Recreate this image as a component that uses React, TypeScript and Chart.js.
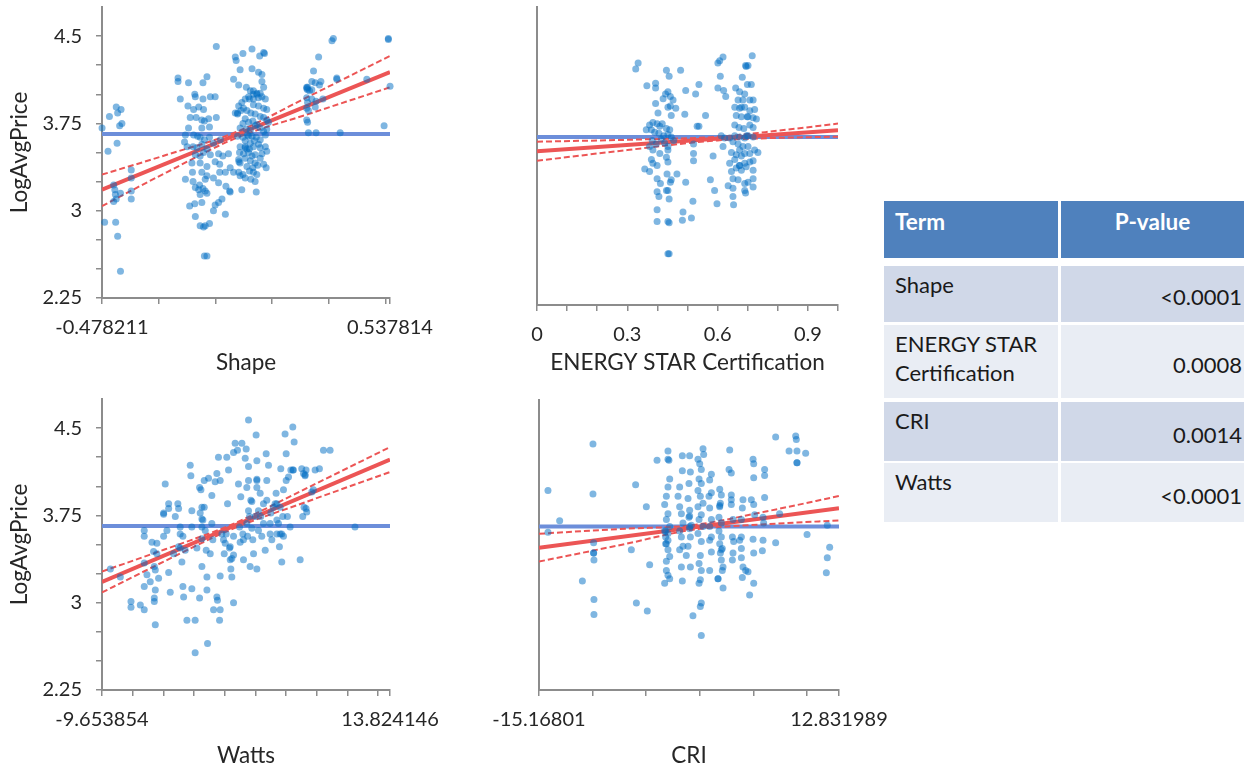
import React, { useEffect, useRef } from "react";
import { Chart, registerables } from "chart.js";

Chart.register(...registerables);

// ---------------- shared axis data ----------------
const Y_MIN = 2.25;
const Y_MAX = 4.75;
const Y_TICKS = [2.25, 2.5, 2.75, 3, 3.25, 3.5, 3.75, 4, 4.25, 4.5];
const Y_TICK_LABELS = ["2.25", "", "", "3", "", "", "3.75", "", "", "4.5"];
const Y_TITLE = "LogAvgPrice";
const MEAN_PRICE = 3.66;

// ---------------- Shape ----------------
const SHAPE_RANGE = [-0.478211, 0.537814];
const SHAPE_TICKS = [-0.478211, -0.278211, -0.078211, 0.121789, 0.321789, 0.521789, 0.537814];
const SHAPE_TICK_LABELS = ["-0.478211", "", "", "", "", "", "0.537814"];
const SHAPE_FIT = [3.18, 4.19];
const SHAPE_CI_X = [-0.478211, -0.25, 0, 0.25, 0.537814];
const SHAPE_CI_UPPER = [3.31, 3.48, 3.68, 3.98, 4.33];
const SHAPE_CI_LOWER = [3.04, 3.33, 3.63, 3.83, 4.06];
const SHAPE_POINTS: [number, number][] = [
  [-0.478, 3.71], [-0.452, 3.81], [-0.428, 3.89], [-0.423, 3.84], [-0.411, 3.87], [-0.408, 3.75], [-0.416, 3.73],
  [-0.457, 3.51], [-0.425, 3.58], [-0.375, 3.35], [-0.375, 3.28], [-0.375, 3.17], [-0.375, 3.1], [-0.437, 3.22],
  [-0.433, 3.18], [-0.431, 3.14], [-0.428, 3.1], [-0.437, 3.08], [-0.413, 3.15], [-0.469, 2.9], [-0.43, 2.9],
  [-0.423, 2.78], [-0.413, 2.48],
  [-0.21, 4.14], [-0.21, 4.11], [-0.173, 4.1], [-0.122, 4.1], [-0.108, 4.15], [-0.202, 3.96], [-0.151, 4.0],
  [-0.149, 3.98], [-0.122, 3.96], [-0.096, 3.98], [-0.079, 3.98], [-0.175, 3.9], [-0.137, 3.89], [-0.155, 3.87],
  [-0.12, 3.87], [-0.167, 3.8], [-0.146, 3.8], [-0.126, 3.78], [-0.117, 3.77], [-0.102, 3.79], [-0.075, 3.8],
  [-0.173, 3.71], [-0.126, 3.71], [-0.099, 3.72], [-0.184, 3.65], [-0.155, 3.65], [-0.141, 3.64], [-0.132, 3.63],
  [-0.117, 3.61], [-0.099, 3.63], [-0.187, 3.59], [-0.178, 3.55], [-0.157, 3.55], [-0.143, 3.54], [-0.126, 3.57],
  [-0.108, 3.53], [-0.085, 3.58], [-0.061, 3.61], [-0.149, 3.48], [-0.132, 3.47], [-0.12, 3.5], [-0.096, 3.48],
  [-0.067, 3.49], [-0.052, 3.47], [-0.032, 3.49], [-0.161, 3.41], [-0.132, 3.41], [-0.108, 3.38], [-0.079, 3.42],
  [-0.063, 3.4], [-0.159, 3.33], [-0.126, 3.33], [-0.108, 3.3], [-0.063, 3.33], [-0.043, 3.33], [-0.184, 3.27],
  [-0.157, 3.25], [-0.134, 3.22], [-0.114, 3.27], [-0.085, 3.28], [-0.067, 3.24], [-0.149, 3.2], [-0.137, 3.18],
  [-0.122, 3.19], [-0.114, 3.17], [-0.132, 3.14], [-0.108, 3.15], [-0.041, 3.21], [-0.028, 3.17], [-0.026, 3.16],
  [-0.169, 3.04], [-0.151, 3.06], [-0.126, 3.07], [-0.079, 3.05], [-0.055, 3.1], [-0.067, 3.07], [-0.085, 3.0],
  [-0.043, 2.97], [-0.149, 2.95], [-0.132, 2.87], [-0.12, 2.86], [-0.114, 2.87], [-0.099, 2.89], [-0.117, 2.61],
  [-0.108, 2.61], [-0.075, 4.41],
  [-0.008, 4.32], [-0.005, 4.29], [0.019, 4.35], [0.051, 4.39], [0.078, 4.33], [0.092, 4.36], [0.095, 4.35],
  [-0.014, 4.13], [0.004, 4.08], [0.009, 4.21], [0.051, 4.22], [0.074, 4.19], [0.086, 4.17], [0.086, 4.11],
  [0.092, 4.06], [0.031, 4.06], [0.045, 4.03], [0.068, 4.01], [0.08, 4.01], [0.056, 4.0], [0.039, 3.98],
  [0.027, 3.96], [0.015, 3.93], [0.004, 3.9], [0.021, 3.88], [0.042, 3.96], [0.056, 3.96], [0.074, 3.97],
  [0.086, 3.98], [0.098, 3.96], [0.056, 3.91], [0.074, 3.9], [0.092, 3.88], [0.103, 3.87], [-0.008, 3.84],
  [0.0, 3.83], [0.012, 3.86], [0.033, 3.86], [0.047, 3.84], [0.062, 3.83], [0.08, 3.81], [0.092, 3.8],
  [0.103, 3.78], [0.109, 3.76], [0.027, 3.79], [0.019, 3.75], [0.039, 3.76], [0.054, 3.77], [0.068, 3.74],
  [0.009, 3.71], [0.031, 3.7], [0.045, 3.69], [0.062, 3.73], [0.08, 3.71], [0.092, 3.68], [0.103, 3.7],
  [0.0, 3.64], [0.019, 3.63], [0.035, 3.65], [0.051, 3.64], [0.066, 3.63], [0.08, 3.61], [0.098, 3.65],
  [0.027, 3.6], [0.045, 3.58], [0.059, 3.6], [0.074, 3.57], [0.098, 3.55], [0.009, 3.55], [0.027, 3.54],
  [0.042, 3.53], [0.056, 3.55], [0.08, 3.54], [0.007, 3.5], [0.021, 3.49], [0.039, 3.5], [0.051, 3.47],
  [0.062, 3.48], [0.086, 3.49], [0.103, 3.51], [0.004, 3.44], [0.027, 3.45], [0.045, 3.43], [0.062, 3.41],
  [0.08, 3.45], [0.009, 3.41], [0.033, 3.38], [0.054, 3.37], [0.071, 3.39], [0.092, 3.4], [0.101, 3.37],
  [0.004, 3.33], [0.019, 3.31], [0.042, 3.34], [0.056, 3.33], [0.068, 3.31], [0.009, 3.3], [0.027, 3.28],
  [0.047, 3.27], [0.062, 3.25], [0.015, 3.18], [0.066, 3.16], [-0.014, 3.33], [-0.026, 3.37],
  [0.0, 3.84], [0.005, 3.42], [0.039, 3.64], [0.056, 4.03], [0.068, 4.0], [0.027, 3.55], [0.033, 3.53],
  [0.244, 4.06], [0.247, 4.04], [0.254, 4.03], [0.262, 4.04], [0.274, 4.1], [0.289, 4.08], [0.294, 4.11],
  [0.268, 4.2], [0.286, 4.32], [0.333, 4.46], [0.338, 4.48], [0.35, 4.14], [0.35, 4.13], [0.456, 4.13],
  [0.532, 4.48], [0.532, 4.47], [0.538, 4.07], [0.244, 3.97], [0.247, 3.93], [0.262, 3.96], [0.277, 3.94],
  [0.301, 3.96], [0.244, 3.88], [0.25, 3.86], [0.274, 3.89], [0.244, 3.78], [0.247, 3.76], [0.25, 3.67],
  [0.277, 3.67], [0.362, 3.67], [0.517, 3.73], [0.244, 4.05], [0.247, 4.06], [0.262, 4.11],
];

// ---------------- ENERGY STAR Certification ----------------
const ENERGY_RANGE = [0, 1];
const ENERGY_TICKS = [0, 0.1, 0.2, 0.3, 0.4, 0.5, 0.6, 0.7, 0.8, 0.9, 1];
const ENERGY_TICK_LABELS = ["0", "", "", "0.3", "", "", "0.6", "", "", "0.9", ""];
const ENERGY_FIT = [3.54, 3.717];
const ENERGY_CI_X = [0, 0.3, 0.6, 0.8, 1];
const ENERGY_CI_UPPER = [3.62, 3.636, 3.661, 3.712, 3.772];
const ENERGY_CI_LOWER = [3.46, 3.55, 3.631, 3.652, 3.662];
const ENERGY_POINTS: [number, number][] = [
  [0.328, 4.23], [0.336, 4.28], [0.365, 4.09], [0.394, 4.11], [0.394, 4.07], [0.43, 4.22], [0.439, 4.17],
  [0.477, 4.22], [0.427, 4.02], [0.435, 4.04], [0.443, 4.0], [0.419, 3.98], [0.394, 3.94], [0.452, 3.97],
  [0.435, 3.91], [0.443, 3.92], [0.461, 3.9], [0.402, 3.86], [0.446, 3.84], [0.491, 3.85], [0.494, 4.05],
  [0.527, 4.02], [0.538, 4.1], [0.56, 3.84], [0.532, 3.75], [0.385, 3.78], [0.374, 3.76], [0.399, 3.77],
  [0.408, 3.75], [0.416, 3.77], [0.43, 3.73], [0.441, 3.72], [0.363, 3.72], [0.38, 3.72], [0.391, 3.7],
  [0.405, 3.69], [0.421, 3.67], [0.435, 3.68], [0.446, 3.66], [0.454, 3.63], [0.383, 3.63], [0.396, 3.6],
  [0.413, 3.64], [0.424, 3.61], [0.435, 3.58], [0.374, 3.58], [0.385, 3.55], [0.408, 3.52], [0.43, 3.49],
  [0.435, 3.55], [0.38, 3.47], [0.385, 3.44], [0.399, 3.42], [0.435, 3.45], [0.358, 3.39], [0.374, 3.37],
  [0.399, 3.31], [0.41, 3.27], [0.432, 3.35], [0.443, 3.28], [0.446, 3.3], [0.465, 3.35], [0.494, 3.28],
  [0.399, 3.2], [0.405, 3.16], [0.439, 3.14], [0.435, 3.21], [0.43, 3.21], [0.399, 3.05], [0.399, 2.95],
  [0.435, 2.95], [0.439, 2.94], [0.485, 3.03], [0.483, 2.96], [0.513, 2.98], [0.518, 3.12], [0.52, 3.6],
  [0.52, 3.52], [0.52, 3.46], [0.435, 2.68], [0.439, 2.68], [0.538, 3.75],
  [0.601, 4.28], [0.607, 4.3], [0.618, 4.33], [0.609, 4.17], [0.715, 4.34], [0.701, 4.26], [0.695, 4.25],
  [0.682, 4.16], [0.699, 4.1], [0.712, 4.1], [0.601, 4.07], [0.62, 4.05], [0.627, 4.0], [0.66, 4.07],
  [0.673, 4.04], [0.69, 4.02], [0.707, 3.97], [0.718, 3.97], [0.668, 3.97], [0.684, 3.97], [0.657, 3.91],
  [0.673, 3.9], [0.69, 3.91], [0.707, 3.88], [0.723, 3.89], [0.662, 3.84], [0.679, 3.83], [0.698, 3.83],
  [0.718, 3.82], [0.729, 3.81], [0.657, 3.76], [0.671, 3.74], [0.687, 3.73], [0.707, 3.76], [0.718, 3.74],
  [0.612, 3.67], [0.623, 3.65], [0.64, 3.65], [0.657, 3.67], [0.673, 3.66], [0.69, 3.65], [0.701, 3.67],
  [0.718, 3.66], [0.651, 3.62], [0.668, 3.6], [0.684, 3.58], [0.701, 3.58], [0.723, 3.55], [0.734, 3.53],
  [0.646, 3.53], [0.662, 3.51], [0.679, 3.5], [0.69, 3.52], [0.707, 3.52], [0.64, 3.44], [0.657, 3.47],
  [0.673, 3.42], [0.69, 3.44], [0.707, 3.45], [0.718, 3.46], [0.646, 3.37], [0.662, 3.4], [0.679, 3.38],
  [0.695, 3.41], [0.718, 3.38], [0.651, 3.31], [0.668, 3.3], [0.69, 3.27], [0.701, 3.28], [0.718, 3.31],
  [0.635, 3.25], [0.651, 3.23], [0.69, 3.21], [0.693, 3.19], [0.718, 3.24], [0.651, 3.16], [0.653, 3.09],
  [0.598, 3.1], [0.59, 3.21], [0.576, 3.3], [0.585, 3.5], [0.618, 3.58],
  [0.693, 4.26], [0.679, 3.91], [0.701, 3.83], [0.696, 3.67], [0.673, 3.55], [0.673, 3.42],
];

// ---------------- Watts ----------------
const WATTS_RANGE = [-9.653854, 13.824146];
const WATTS_TICKS = [-9.653854, -7.153854, -4.653854, -2.153854, 0.346146, 2.846146, 5.346146, 7.846146, 10.346146, 12.846146, 13.824146];
const WATTS_TICK_LABELS = ["-9.653854", "", "", "", "", "", "", "", "", "", "13.824146"];
const WATTS_FIT = [3.178, 4.23];
const WATTS_CI_X = [-9.653854, -4.5, 1.0, 7, 13.824146];
const WATTS_CI_UPPER = [3.268, 3.459, 3.675, 3.982, 4.337];
const WATTS_CI_LOWER = [3.088, 3.359, 3.635, 3.866, 4.123];
const WATTS_POINTS: [number, number][] = [
  [-8.97, 3.29], [-8.16, 3.22], [-7.29, 3.01], [-7.29, 2.96], [-6.53, 2.98], [-6.21, 2.94], [-6.21, 3.14],
  [-6.21, 3.34], [-6.21, 3.57], [-6.21, 3.62], [-5.99, 3.24], [-5.72, 3.18], [-5.58, 3.52], [-5.45, 3.44],
  [-5.39, 3.31], [-5.31, 3.28], [-5.31, 3.11], [-5.39, 3.04], [-5.39, 3.01], [-5.31, 2.81], [-5.18, 3.42],
  [-5.04, 3.21], [-5.18, 3.51], [-4.63, 3.77], [-4.63, 3.57], [-4.5, 4.02], [-4.36, 3.62], [-4.22, 3.85],
  [-4.22, 3.81], [-4.22, 3.26], [-4.09, 3.09], [-3.82, 3.42], [-3.68, 3.74], [-3.47, 3.85], [-3.41, 3.81],
  [-3.41, 3.48], [-3.28, 3.65], [-3.28, 3.59], [-3.14, 3.35], [-3.06, 3.14], [-3.0, 3.05], [-3.06, 3.57],
  [-2.87, 3.45], [-2.73, 2.85], [-2.46, 4.18], [-2.41, 4.09], [-2.33, 3.79], [-2.33, 3.65], [-2.33, 3.12],
  [-2.06, 2.85], [-2.06, 2.57], [-1.92, 3.47], [-1.7, 3.04], [-1.7, 3.99], [-1.65, 3.77], [-1.59, 3.97],
  [-1.51, 3.65], [-1.51, 3.55], [-1.51, 3.31], [-1.43, 3.71], [-1.32, 4.05], [-1.32, 3.82], [-1.24, 3.62],
  [-1.16, 3.45], [-1.1, 3.22], [-1.1, 3.11], [-1.05, 2.65], [-0.97, 4.07], [-0.83, 3.42], [-0.7, 3.92],
  [-0.7, 3.68], [-0.62, 3.54], [-0.56, 2.94], [-0.43, 4.04], [-0.29, 4.11], [-0.29, 3.05], [-0.24, 3.02],
  [-0.16, 4.25], [-0.02, 4.05], [-0.02, 2.94], [-0.02, 3.23], [-0.07, 2.85], [0.12, 3.59], [0.25, 3.54],
  [0.39, 3.51], [0.31, 3.42], [0.47, 3.59], [0.52, 4.25], [0.58, 3.85], [0.66, 4.14], [0.74, 3.47],
  [0.8, 3.37], [0.85, 3.29], [0.93, 3.22], [1.07, 3.41], [1.07, 3.57], [1.07, 3.0], [1.07, 4.29],
  [1.2, 4.37], [1.39, 4.31], [1.47, 4.02], [1.56, 3.65], [1.61, 3.52], [1.66, 3.91], [1.75, 4.37],
  [1.83, 3.59], [1.88, 3.54], [1.88, 3.37], [2.02, 4.24], [2.1, 4.32], [2.15, 3.99], [2.15, 3.68],
  [2.21, 3.57], [2.29, 4.57], [2.29, 4.17], [2.29, 4.05], [2.29, 3.79], [2.37, 3.74], [2.42, 3.31],
  [2.48, 3.88], [2.56, 3.64], [2.64, 3.54], [2.7, 3.42], [2.83, 3.74], [2.91, 4.44], [2.97, 4.22],
  [2.97, 4.05], [2.97, 3.99], [2.97, 3.29], [3.1, 3.79], [3.1, 3.62], [3.24, 3.94], [3.29, 3.74],
  [3.37, 3.57], [3.51, 3.85], [3.51, 3.68], [3.65, 3.45], [3.73, 4.28], [3.78, 4.05], [3.78, 3.88],
  [3.92, 4.18], [4.05, 3.68], [4.05, 3.59], [4.11, 3.77], [4.19, 3.54], [4.32, 3.82], [4.46, 3.85],
  [4.54, 3.94], [4.6, 3.71], [4.6, 3.59], [4.73, 3.68], [4.81, 3.48], [4.87, 3.82], [4.87, 3.59],
  [4.92, 4.15], [5.0, 3.35], [5.08, 3.74], [5.14, 3.57], [5.14, 3.97], [5.27, 4.45], [5.36, 4.28],
  [5.36, 4.05], [5.46, 3.74], [5.55, 4.08], [5.68, 3.65], [5.74, 4.14], [5.9, 4.51], [5.95, 4.14],
  [6.01, 4.38], [6.5, 3.37], [6.63, 4.15], [6.71, 3.74], [6.77, 4.11], [6.82, 3.82], [6.9, 4.09],
  [6.98, 4.14], [7.04, 3.78], [7.45, 3.95], [7.58, 3.97], [7.72, 4.14], [8.07, 4.15], [8.4, 4.31],
  [8.94, 4.31], [10.97, 3.65],
  [-4.63, 3.76], [-3.28, 3.47], [-1.51, 3.72], [-1.51, 3.82], [0.8, 3.48], [0.93, 3.38], [2.56, 3.87],
  [2.97, 4.06], [4.6, 3.85], [5.0, 3.59], [5.9, 4.14], [6.9, 4.1], [6.98, 3.81],
];

// ---------------- CRI ----------------
const CRI_RANGE = [-15.16801, 12.831989];
const CRI_TICKS = [-15.16801, -10.16801, -5.16801, -0.16801, 4.83199, 9.83199, 12.831989];
const CRI_TICK_LABELS = ["-15.16801", "", "", "", "", "", "12.831989"];
const CRI_FIT = [3.477, 3.817];
const CRI_CI_X = [-15.16801, -7, -1, 6, 12.831989];
const CRI_CI_UPPER = [3.597, 3.641, 3.669, 3.789, 3.922];
const CRI_CI_LOWER = [3.357, 3.511, 3.629, 3.679, 3.712];
const CRI_POINTS: [number, number][] = [
  [-14.33, 3.97], [-14.33, 3.61], [-13.24, 3.71], [-10.13, 4.37], [-10.13, 3.94], [-10.07, 3.52],
  [-10.07, 3.43], [-10.04, 3.37], [-10.04, 3.03], [-10.04, 2.9], [-11.12, 3.19], [-6.55, 3.46],
  [-6.15, 4.02], [-6.08, 3.0], [-5.15, 3.83], [-5.06, 2.93], [-4.84, 3.33], [-4.15, 4.23], [-3.44, 3.17],
  [-3.28, 3.28], [-3.13, 4.31], [-3.04, 4.23], [-2.97, 4.07], [-3.13, 4.0], [-3.28, 3.92], [-3.44, 3.85],
  [-3.13, 3.77], [-3.28, 3.72], [-2.97, 3.66], [-3.13, 3.6], [-3.35, 3.51], [-3.13, 3.46], [-2.97, 3.4],
  [-3.28, 3.36], [-3.13, 3.24], [-2.97, 3.21], [-3.44, 3.62], [-3.35, 3.57], [-3.13, 3.54], [-1.79, 4.27],
  [-1.79, 4.14], [-2.04, 4.0], [-2.19, 3.92], [-2.04, 3.83], [-1.88, 3.77], [-1.73, 3.69], [-2.04, 3.62],
  [-1.88, 3.57], [-1.73, 3.49], [-2.04, 3.46], [-1.42, 3.41], [-1.88, 3.31], [-1.79, 3.19], [-1.11, 4.27],
  [-1.04, 4.13], [-1.17, 4.03], [-1.26, 3.9], [-1.11, 3.8], [-1.17, 3.74], [-0.95, 3.67], [-1.11, 3.64],
  [-1.04, 3.57], [-1.26, 3.49], [-1.04, 3.31], [-0.8, 2.89], [-0.33, 4.24], [-0.17, 4.2], [-0.02, 4.15],
  [0.14, 4.33], [0.2, 4.28], [-0.23, 4.07], [-0.02, 4.03], [-0.33, 3.97], [-0.11, 3.92], [0.14, 3.86],
  [-0.33, 3.83], [-0.02, 3.76], [-0.23, 3.72], [0.14, 3.66], [-0.33, 3.6], [-0.02, 3.53], [-0.11, 3.41],
  [-0.23, 3.34], [-0.02, 3.28], [-0.11, 3.2], [-0.23, 3.17], [-0.02, 3.0], [-0.11, 2.97], [-0.02, 2.72],
  [0.92, 4.11], [0.76, 4.06], [0.92, 3.95], [0.7, 3.92], [0.76, 3.82], [0.92, 3.72], [0.76, 3.66],
  [0.92, 3.57], [0.76, 3.54], [0.92, 3.44], [0.76, 3.28], [1.7, 3.98], [1.85, 3.93], [1.76, 3.86],
  [1.7, 3.83], [1.63, 3.74], [1.85, 3.69], [1.63, 3.62], [1.85, 3.57], [1.7, 3.51], [1.94, 3.47],
  [1.76, 3.43], [1.85, 3.37], [2.01, 3.31], [1.94, 3.28], [1.54, 3.21], [2.01, 3.13], [2.63, 4.32],
  [2.57, 4.15], [2.78, 4.12], [2.78, 3.93], [2.78, 3.89], [2.78, 3.85], [2.94, 3.72], [2.88, 3.57],
  [3.0, 3.53], [2.94, 3.43], [2.88, 3.37], [3.81, 3.82], [3.87, 3.89], [3.72, 3.72], [3.72, 3.57],
  [3.56, 3.54], [3.72, 3.47], [3.72, 3.39], [3.87, 3.31], [4.12, 3.28], [4.34, 3.27], [3.81, 3.22],
  [4.49, 3.07], [4.81, 4.24], [4.87, 4.2], [4.87, 4.08], [4.65, 3.89], [4.87, 3.85], [4.96, 3.76],
  [4.81, 3.55], [4.87, 3.43], [4.87, 3.17], [5.74, 3.74], [5.89, 4.15], [5.89, 4.1], [5.89, 3.91],
  [5.8, 3.69], [5.74, 3.54], [5.68, 3.45], [6.92, 4.43], [6.92, 3.52], [7.29, 3.77], [8.17, 4.31],
  [8.79, 4.44], [8.85, 4.41], [8.91, 4.31], [8.91, 4.21], [9.72, 4.29], [9.85, 3.59], [11.74, 3.67],
  [11.96, 3.48], [11.74, 3.39], [11.65, 3.26],
  [-3.35, 3.62], [-3.28, 3.51], [-1.11, 3.66], [1.7, 3.84], [1.85, 3.46], [8.91, 4.21], [-1.11, 3.75],
  [1.54, 3.21], [-3.13, 4.24], [-10.07, 3.43],
];

// ---------------- P-value table ----------------
const TABLE_HEADERS = ["Term", "P-value"];
const TERMS = ["Shape", "ENERGY STAR Certification", "CRI", "Watts"];
const P_VALUES = ["<0.0001", "0.0008", "0.0014", "<0.0001"];

// ---------------- styles ----------------
const FONT = "Lato, 'Noto Sans', sans-serif";
const TICK_SIZE = 20;
const TITLE_SIZE = 22.5;
const TEXT_COLOR = "#262626";
const AXIS_COLOR = "#8c8c8c";
const DOT_COLOR = "rgba(0,110,195,0.5)";
const MEAN_COLOR = "rgb(108,142,218)";
const FIT_COLOR = "rgb(236,85,85)";

type PanelProps = {
  box: { left: number; top: number; width: number; height: number };
  padTop: number;
  padRight: number;
  yWidth: number;
  xHeight: number;
  titlePadBottom: number;
  showYAxisLabels: boolean;
  xTitle: string;
  xRange: number[];
  xTicks: number[];
  xTickLabels: string[];
  points: [number, number][];
  fit: number[];
  ciX: number[];
  ciUpper: number[];
  ciLower: number[];
};

function Panel(p: PanelProps) {
  const ref = useRef<HTMLCanvasElement | null>(null);
  useEffect(() => {
    if (!ref.current) return;
    const tickFont = { family: FONT, size: TICK_SIZE };
    const titleFont = { family: FONT, size: TITLE_SIZE };
    const chart = new Chart(ref.current, {
      type: "scatter",
      data: {
        datasets: [
          {
            data: p.points.map(([x, y]) => ({ x, y })),
            backgroundColor: DOT_COLOR,
            borderWidth: 0,
            pointRadius: 3.5,
            pointHoverRadius: 3.5,
            clip: false,
            order: 0,
          },
          {
            data: [
              { x: p.xRange[0], y: p.fit[0] },
              { x: p.xRange[1], y: p.fit[1] },
            ],
            showLine: true,
            borderColor: FIT_COLOR,
            borderWidth: 4,
            pointRadius: 0,
            order: 1,
          },
          {
            data: p.ciX.map((x, i) => ({ x, y: p.ciUpper[i] })),
            showLine: true,
            borderColor: FIT_COLOR,
            borderWidth: 2,
            borderDash: [6, 3],
            pointRadius: 0,
            cubicInterpolationMode: "monotone",
            order: 2,
          },
          {
            data: p.ciX.map((x, i) => ({ x, y: p.ciLower[i] })),
            showLine: true,
            borderColor: FIT_COLOR,
            borderWidth: 2,
            borderDash: [6, 3],
            pointRadius: 0,
            cubicInterpolationMode: "monotone",
            order: 2,
          },
          {
            data: [
              { x: p.xRange[0], y: MEAN_PRICE },
              { x: p.xRange[1], y: MEAN_PRICE },
            ],
            showLine: true,
            borderColor: MEAN_COLOR,
            borderWidth: 4,
            pointRadius: 0,
            order: 3,
          },
        ],
      } as any,
      options: {
        responsive: false,
        animation: false,
        devicePixelRatio: 1,
        events: [],
        layout: { padding: { left: 0, top: p.padTop, right: p.padRight, bottom: 0 } },
        plugins: { legend: { display: false }, tooltip: { enabled: false } },
        scales: {
          x: {
            type: "linear",
            min: p.xRange[0],
            max: p.xRange[1],
            afterFit: (s: any) => {
              s.height = p.xHeight;
              s.paddingLeft = 0;
              s.paddingRight = 0;
            },
            afterBuildTicks: (s: any) => {
              s.ticks = p.xTicks.map((v) => ({ value: v }));
            },
            ticks: {
              autoSkip: false,
              maxRotation: 0,
              minRotation: 0,
              padding: 12,
              color: TEXT_COLOR,
              font: tickFont,
              callback: (_v: any, i: number) => p.xTickLabels[i] ?? "",
            },
            grid: {
              display: true,
              drawOnChartArea: false,
              drawTicks: true,
              tickLength: 6,
              color: AXIS_COLOR,
              lineWidth: 1.5,
            },
            border: { display: true, color: AXIS_COLOR, width: 2 },
            title: {
              display: true,
              text: p.xTitle,
              color: TEXT_COLOR,
              font: titleFont,
              padding: { top: 0, bottom: p.titlePadBottom },
            },
          },
          y: {
            type: "linear",
            min: Y_MIN,
            max: Y_MAX,
            afterFit: (s: any) => {
              s.width = p.yWidth;
              s.paddingTop = 0;
              s.paddingBottom = 0;
            },
            afterBuildTicks: (s: any) => {
              s.ticks = Y_TICKS.map((v) => ({ value: v }));
            },
            ticks: {
              display: p.showYAxisLabels,
              autoSkip: false,
              padding: 14,
              color: TEXT_COLOR,
              font: tickFont,
              callback: (_v: any, i: number) => Y_TICK_LABELS[i] ?? "",
            },
            grid: {
              display: true,
              drawOnChartArea: false,
              drawTicks: p.showYAxisLabels,
              tickLength: 6,
              color: AXIS_COLOR,
              lineWidth: 1.5,
            },
            border: { display: true, color: AXIS_COLOR, width: 2 },
            title: {
              display: p.showYAxisLabels,
              text: Y_TITLE,
              color: TEXT_COLOR,
              font: titleFont,
              padding: { top: 6, bottom: 0 },
            },
          },
        },
      } as any,
    });
    return () => chart.destroy();
  }, []);
  return (
    <canvas
      ref={ref}
      width={p.box.width}
      height={p.box.height}
      style={{
        position: "absolute",
        left: p.box.left,
        top: p.box.top,
        width: p.box.width,
        height: p.box.height,
      }}
    />
  );
}

const HEADER_BOX = { top: 201, height: 57 };
const ROW_BOXES = [
  { top: 266, height: 56 },
  { top: 325, height: 73 },
  { top: 402, height: 59 },
  { top: 463, height: 59 },
];
const COL_BOXES = [
  { left: 884, width: 174 },
  { left: 1061, width: 183 },
];
const ROW_COLORS = ["#d0d8e8", "#e9edf4"];

function PTable() {
  const cellBase: React.CSSProperties = {
    position: "absolute",
    boxSizing: "border-box",
    fontFamily: FONT,
    fontSize: 22,
    lineHeight: "29px",
    color: "#1a1a1a",
  };
  const headBase: React.CSSProperties = {
    ...cellBase,
    top: HEADER_BOX.top,
    height: HEADER_BOX.height,
    background: "#4f81bd",
    color: "#fff",
    fontWeight: 700,
    fontSize: 22.5,
  };
  return (
    <>
      <div style={{ ...headBase, left: COL_BOXES[0].left, width: COL_BOXES[0].width, padding: "6px 0 0 11px" }}>
        {TABLE_HEADERS[0]}
      </div>
      <div
        style={{
          ...headBase,
          left: COL_BOXES[1].left,
          width: COL_BOXES[1].width,
          textAlign: "center",
          padding: "6px 0 0 0",
        }}
      >
        {TABLE_HEADERS[1]}
      </div>
      {TERMS.map((t, i) => (
        <React.Fragment key={t}>
          <div
            style={{
              ...cellBase,
              left: COL_BOXES[0].left,
              width: COL_BOXES[0].width,
              top: ROW_BOXES[i].top,
              height: ROW_BOXES[i].height,
              background: ROW_COLORS[i % 2],
              padding: "4px 4px 0 11px",
            }}
          >
            {t}
          </div>
          <div
            style={{
              ...cellBase,
              left: COL_BOXES[1].left,
              width: COL_BOXES[1].width,
              top: ROW_BOXES[i].top,
              height: ROW_BOXES[i].height,
              background: ROW_COLORS[i % 2],
              display: "flex",
              alignItems: "center",
              justifyContent: "flex-end",
              padding: "5px 2px 0 0",
            }}
          >
            {P_VALUES[i]}
          </div>
        </React.Fragment>
      ))}
    </>
  );
}

export default function App() {
  return (
    <div
      style={{
        position: "absolute",
        left: 0,
        top: 0,
        width: 1253,
        height: 770,
        background: "#fff",
        overflow: "hidden",
      }}
    >
      <Panel
        box={{ left: 0, top: 0, width: 445, height: 380 }}
        padTop={7}
        padRight={55}
        yWidth={102}
        xHeight={82}
        titlePadBottom={4}
        showYAxisLabels={true}
        xTitle="Shape"
        xRange={SHAPE_RANGE}
        xTicks={SHAPE_TICKS}
        xTickLabels={SHAPE_TICK_LABELS}
        points={SHAPE_POINTS}
        fit={SHAPE_FIT}
        ciX={SHAPE_CI_X}
        ciUpper={SHAPE_CI_UPPER}
        ciLower={SHAPE_CI_LOWER}
      />
      <Panel
        box={{ left: 440, top: 0, width: 420, height: 380 }}
        padTop={7}
        padRight={22}
        yWidth={97}
        xHeight={75}
        titlePadBottom={4}
        showYAxisLabels={false}
        xTitle="ENERGY STAR Certification"
        xRange={ENERGY_RANGE}
        xTicks={ENERGY_TICKS}
        xTickLabels={ENERGY_TICK_LABELS}
        points={ENERGY_POINTS}
        fit={ENERGY_FIT}
        ciX={ENERGY_CI_X}
        ciUpper={ENERGY_CI_UPPER}
        ciLower={ENERGY_CI_LOWER}
      />
      <Panel
        box={{ left: 0, top: 380, width: 445, height: 390 }}
        padTop={19}
        padRight={55}
        yWidth={102}
        xHeight={80}
        titlePadBottom={1}
        showYAxisLabels={true}
        xTitle="Watts"
        xRange={WATTS_RANGE}
        xTicks={WATTS_TICKS}
        xTickLabels={WATTS_TICK_LABELS}
        points={WATTS_POINTS}
        fit={WATTS_FIT}
        ciX={WATTS_CI_X}
        ciUpper={WATTS_CI_UPPER}
        ciLower={WATTS_CI_LOWER}
      />
      <Panel
        box={{ left: 440, top: 380, width: 460, height: 390 }}
        padTop={20}
        padRight={61}
        yWidth={99}
        xHeight={80}
        titlePadBottom={1}
        showYAxisLabels={false}
        xTitle="CRI"
        xRange={CRI_RANGE}
        xTicks={CRI_TICKS}
        xTickLabels={CRI_TICK_LABELS}
        points={CRI_POINTS}
        fit={CRI_FIT}
        ciX={CRI_CI_X}
        ciUpper={CRI_CI_UPPER}
        ciLower={CRI_CI_LOWER}
      />
      <PTable />
    </div>
  );
}
